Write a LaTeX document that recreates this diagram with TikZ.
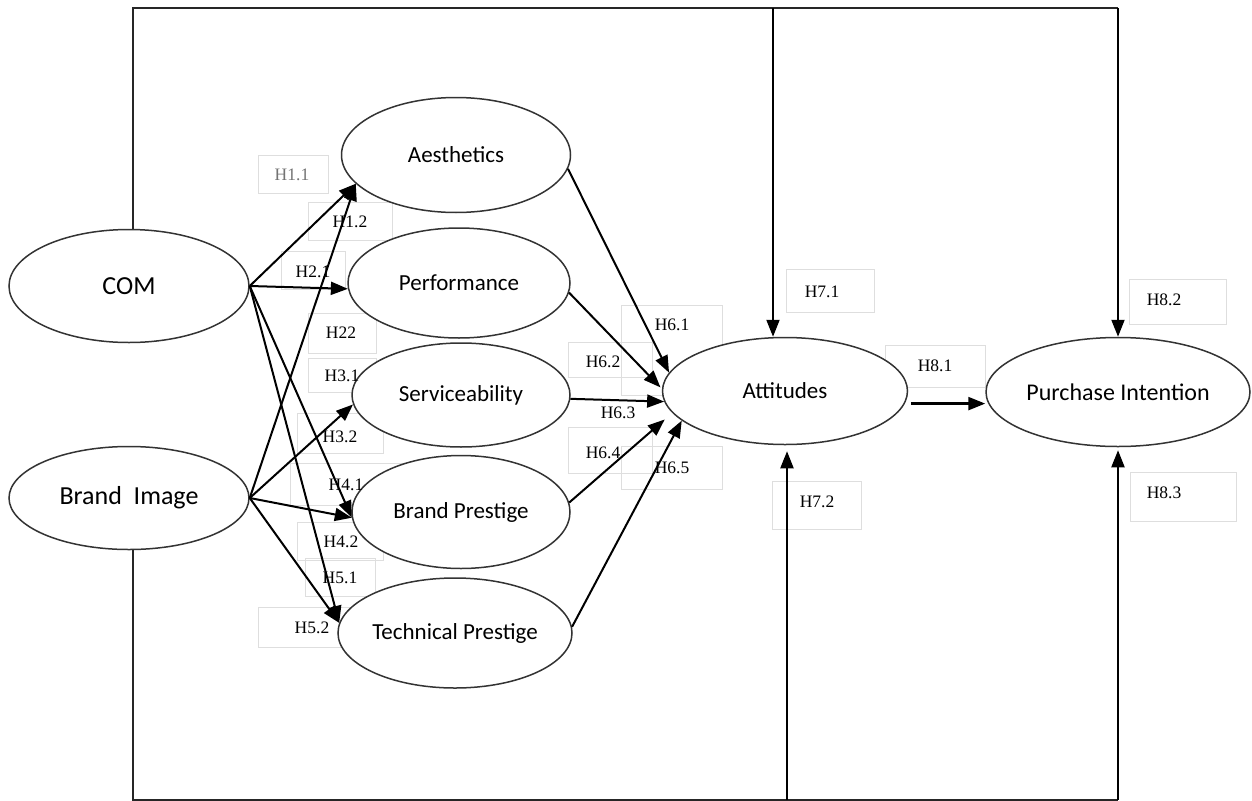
\documentclass[tikz,border=0pt]{standalone}
\usepackage{fontspec}
\setmainfont{Liberation Serif}
\newfontfamily\nodefont{Carlito}
\usetikzlibrary{shapes.geometric,arrows.meta,calc}
\begin{document}
\begin{tikzpicture}[x=1pt,y=-1pt,
  ell/.style={ellipse, draw=black!80, line width=1.5pt, fill=white, inner sep=0pt,
    font=\nodefont\fontsize{23}{27}\selectfont},
  bigtext/.style={font=\nodefont\fontsize{26}{30}\selectfont},
  conn/.style={line width=2pt, -{Triangle[length=17pt,width=13pt]}},
  frameline/.style={line width=1.6pt, black!85},
  hbox/.style={draw=black!13, line width=0.8pt, inner sep=0pt},
  hlab/.style={font=\fontsize{17.5}{20}\selectfont, inner sep=0pt}
]
\useasboundingbox (0,0) rectangle (1252,800);

% faint label boxes
\node[hbox, minimum width=70pt, minimum height=38pt] (bx11) at (293,174) {};
\node[hbox, minimum width=84pt, minimum height=38pt] (bx12) at (350,221) {};
\node[hbox, minimum width=64pt, minimum height=38pt] (bx21) at (313,270) {};
\node[hbox, minimum width=68pt, minimum height=40pt] (bx22) at (342,333) {};
\node[hbox, minimum width=68pt, minimum height=34pt] (bx31) at (342,375) {};
\node[hbox, minimum width=86pt, minimum height=40pt] (bx32) at (340,433) {};
\node[hbox, minimum width=112pt, minimum height=42pt] (bx41) at (346,484) {};
\node[hbox, minimum width=86pt, minimum height=38pt] (bx42) at (340,541) {};
\node[hbox, minimum width=70pt, minimum height=38pt] (bx51) at (340,577) {};
\node[hbox, minimum width=108pt, minimum height=40pt] (bx52) at (312,627) {};
\node[hbox, minimum width=101pt, minimum height=90pt] (bx61) at (672,350) {};
\node[hbox, minimum width=84pt, minimum height=35pt] (bx62) at (610,360) {};
\node[hbox, minimum width=84pt, minimum height=46pt] (bx64) at (610,450) {};
\node[hbox, minimum width=101pt, minimum height=43pt] (bx65) at (672,468) {};
\node[hbox, minimum width=88pt, minimum height=43pt] (bx71) at (830,291) {};
\node[hbox, minimum width=100pt, minimum height=42pt] (bx81) at (935,366) {};
\node[hbox, minimum width=97pt, minimum height=45pt] (bx82) at (1178,302) {};
\node[hbox, minimum width=89pt, minimum height=48pt] (bx72) at (817,505) {};
\node[hbox, minimum width=106pt, minimum height=49pt] (bx83) at (1183,497) {};

% construct ellipses
\node[ell, bigtext, minimum width=240pt, minimum height=113pt] (com) at (129,286) {COM};
\node[ell, bigtext, minimum width=240pt, minimum height=103pt] (bi) at (129,498) {Brand\ \ Image};
\node[ell, minimum width=229pt, minimum height=115pt] (aes) at (456,155) {Aesthetics};
\node[ell, minimum width=222pt, minimum height=110pt] (perf) at (459,283) {Performance};
\node[ell, minimum width=218pt, minimum height=104pt] (serv) at (461,395) {Serviceability};
\node[ell, minimum width=218pt, minimum height=113pt] (bp) at (461,512) {Brand Prestige};
\node[ell, minimum width=230pt, minimum height=110pt] (tp) at (455,633) {Technical Prestige};
\node[ell, minimum width=245pt, minimum height=107pt] (att) at (785,391) {Attitudes};
\node[ell, font=\nodefont\fontsize{24}{28}\selectfont, minimum width=264pt, minimum height=109pt] (pi) at (1118,392) {Purchase Intention};

% frame coordinates
\coordinate (tl) at (133,8);
\coordinate (t1) at (773,8);
\coordinate (t2) at (1118,8);
\coordinate (bl) at (133,800);
\coordinate (b1) at (787,800);
\coordinate (b2) at (1118,800);

\draw[frameline] (tl |- com.north) -- (tl) -- (t2);
\draw[frameline] (tl |- bi.south) -- (bl) -- (b2);

\draw[conn] (t1) -- (t1 |- att.north);
\draw[conn, shorten >=6pt] (b1) -- (b1 |- att.south);
\draw[conn] (t2) -- (pi.north);
\draw[conn, shorten >=3pt] (b2) -- (pi.south);

% COM paths
\draw[conn] (com.east) -- (aes.196);
\draw[conn] (com.east) -- (perf.183);
\draw[conn] (com.east) -- (bp.183);
\draw[conn] (com.east) -- (tp.175);
% Brand Image paths
\draw[conn] (bi.east) -- (aes.196);
\draw[conn] (bi.east) -- (serv.185);
\draw[conn] (bi.east) -- (bp.183);
\draw[conn] (bi.east) -- (tp.175);
% to Attitudes
\draw[conn] (aes.-7) -- (att.171);
\draw[conn, shorten >=2pt] (perf.-5) -- (att.179);
\draw[conn] (serv.-2) -- (att.185);
\draw[conn, shorten >=10pt] (bp.5) -- (att.191);
\draw[conn] (tp.3) -- (att.196);
% Attitudes -> Purchase Intention
\draw[conn, line width=2.4pt, shorten <=6pt] (att.-6) -- (att.-6 -| pi.west);

% hypothesis labels
\node[hlab, text=black!55] (h11) at (292,175) {H1.1};
\node[hlab] (h12) at (350,222) {H1.2};
\node[hlab] (h21) at (313,272) {H2.1};
\node[hlab] (h22) at (341,333) {H22};
\node[hlab] (h31) at (342,376) {H3.1};
\node[hlab] (h32) at (340,437) {H3.2};
\node[hlab] (h41) at (346,485) {H4.1};
\node[hlab] (h42) at (341,542) {H4.2};
\node[hlab] (h51) at (340,578) {H5.1};
\node[hlab] (h52) at (312,628) {H5.2};
\node[hlab] (h61) at (672,325) {H6.1};
\node[hlab] (h62) at (603,362) {H6.2};
\node[hlab] (h63) at (618,413) {H6.3};
\node[hlab] (h64) at (603,453) {H6.4};
\node[hlab] (h65) at (672,468) {H6.5};
\node[hlab] (h71) at (822,292) {H7.1};
\node[hlab] (h81) at (935,366) {H8.1};
\node[hlab] (h82) at (1164,300) {H8.2};
\node[hlab] (h72) at (817,502) {H7.2};
\node[hlab] (h83) at (1164,493) {H8.3};
\end{tikzpicture}
\end{document}
